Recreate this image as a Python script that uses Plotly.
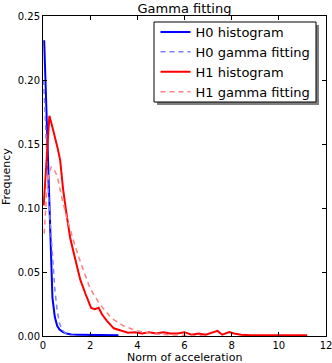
import plotly.graph_objs as go

# H0 histogram (blue) and its gamma fit
h0_x = [0.05, 0.1, 0.15, 0.2, 0.25, 0.3, 0.35, 0.4, 0.5, 0.6, 0.7, 0.85, 1.0, 1.2,
        1.5, 1.8, 2.1, 2.5, 2.9, 3.2]
h0_y = [0.231, 0.2, 0.17, 0.155, 0.12, 0.08, 0.05, 0.03, 0.015, 0.008, 0.005, 0.003, 0.002, 0.0012,
        0.001, 0.0009, 0.0008, 0.0006, 0.0005, 0.0005]

h0_fit_x = [0.02, 0.05, 0.1, 0.15, 0.2, 0.3, 0.4, 0.5, 0.6, 0.7, 0.8, 0.9, 1.0, 1.2, 1.5]
h0_fit_y = [0.2, 0.19, 0.17, 0.145, 0.12, 0.09, 0.065, 0.037, 0.02, 0.01, 0.005, 0.003, 0.0015, 0.0005, 0.0001]

# H1 histogram (red) and its gamma fit
h1_x = [0.03, 0.15, 0.27, 0.4, 0.52, 0.63, 0.73, 0.85, 1.0, 1.15, 1.25, 1.4, 1.58, 1.8,
        2.04, 2.2, 2.36, 2.5, 2.7, 3.0, 3.3, 3.6, 3.9, 4.2, 4.5, 4.8, 5.1, 5.4, 5.7, 6.0,
        6.3, 6.6, 6.9, 7.2, 7.4, 7.6, 7.9, 8.1, 8.4, 8.8, 9.2, 9.6, 10.0, 10.4, 10.8, 11.2]
h1_y = [0.102, 0.14, 0.172, 0.163, 0.155, 0.146, 0.137, 0.115, 0.095, 0.077, 0.069, 0.058, 0.044, 0.033,
        0.022, 0.021, 0.022, 0.017, 0.012, 0.006, 0.004, 0.0025, 0.003, 0.002, 0.003, 0.002, 0.003, 0.002, 0.002, 0.003,
        0.001, 0.002, 0.001, 0.003, 0.004, 0.001, 0.003, 0.002, 0.001, 0.0005, 0.0005, 0.0003, 0.0005, 0.0003, 0.0003, 0.0005]

h1_fit_x = [0.05, 0.15, 0.25, 0.35, 0.45, 0.6, 0.8, 1.0, 1.3, 1.6, 2.0, 2.4, 2.9, 3.4,
            3.9, 4.5, 5.0, 5.5, 6.0, 6.5, 7.0]
h1_fit_y = [0.08, 0.11, 0.127, 0.132, 0.131, 0.125, 0.108, 0.093, 0.074, 0.057, 0.037, 0.025, 0.014, 0.008,
            0.0045, 0.0022, 0.0012, 0.0007, 0.0004, 0.0002, 0.0001]

x_ticks = [0, 2, 4, 6, 8, 10, 12]
y_ticks = [0.0, 0.05, 0.1, 0.15, 0.2, 0.25]

font = "DejaVu Sans"
W, H = 332, 363
L, R, T, B = 43, 6, 16, 27
pw, ph = W - L - R, H - T - B

graph = [
    go.Scatter(x=h0_x, y=h0_y, mode='lines', name='H0 histogram',
               line=dict(color='#0000ff', width=2)),
    go.Scatter(x=h0_fit_x, y=h0_fit_y, mode='lines', name='H0 gamma fitting',
               line=dict(color='#8080ff', width=1.5, dash='5px,4px')),
    go.Scatter(x=h1_x, y=h1_y, mode='lines', name='H1 histogram',
               line=dict(color='#ff0000', width=2)),
    go.Scatter(x=h1_fit_x, y=h1_fit_y, mode='lines', name='H1 gamma fitting',
               line=dict(color='#ff8080', width=1.5, dash='5px,4px')),
]

axis_common = dict(showline=True, linecolor='black', linewidth=1, mirror='ticks',
                   ticks='inside', ticklen=4, tickcolor='black', showgrid=False,
                   zeroline=False, automargin=False, ticklabeloverflow='allow',
                   tickfont=dict(family=font, size=10, color='black'))

# pixel helpers for paper coords
def px(x):
    return (x - L) / pw

def py(y):
    return (H - B - y) / ph

layout = dict(
    width=W, height=H,
    margin=dict(l=L, r=R, t=T, b=B, autoexpand=False),
    paper_bgcolor='white', plot_bgcolor='white',
    font=dict(family=font, color='black'),
    title=dict(text='Gamma fitting', x=184.5 / W, xanchor='center', y=1 - 8 / H,
               yanchor='middle', font=dict(family=font, size=13, color='black')),
    xaxis=dict(range=[0, 12], tickvals=x_ticks, **axis_common),
    yaxis=dict(range=[0, 0.25], tickvals=y_ticks, tickformat='.2f', **axis_common),
    annotations=[
        dict(text='Norm of acceleration', xref='paper', yref='paper',
             x=px(184.5), y=py(357), xanchor='center', yanchor='middle',
             showarrow=False, font=dict(family=font, size=11, color='black')),
        dict(text='Frequency', xref='paper', yref='paper', textangle=-90,
             x=px(6), y=py(176), xanchor='center', yanchor='middle',
             showarrow=False, font=dict(family=font, size=11, color='black')),
    ],
    # legend frame with shadow (matplotlib style)
    shapes=[
        dict(type='rect', xref='paper', yref='paper', layer='above',
             x0=px(157), x1=px(319), y0=py(105), y1=py(25),
             fillcolor='#7f7f7f', line=dict(width=0)),
        dict(type='rect', xref='paper', yref='paper', layer='above',
             x0=px(154), x1=px(316), y0=py(102), y1=py(22),
             fillcolor='white', line=dict(color='black', width=1)),
    ],
    legend=dict(x=px(155.5), y=py(17), xanchor='left', yanchor='top',
                bgcolor='rgba(0,0,0,0)', borderwidth=0,
                font=dict(family=font, size=13, color='black')),
    showlegend=True,
)

fig = go.Figure(data=graph, layout=layout)
fig.write_html("out.html", config={'displayModeBar': False},
               post_script="document.body.style.margin='0';")
